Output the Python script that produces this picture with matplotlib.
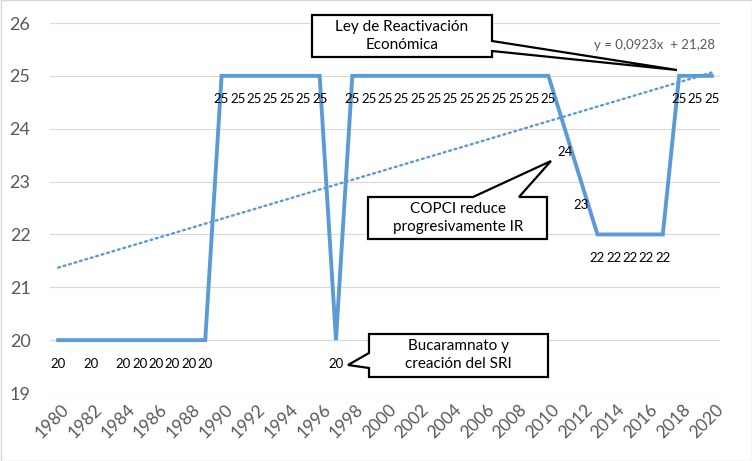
import matplotlib
matplotlib.use("Agg")
import matplotlib.pyplot as plt
import matplotlib.transforms as mtransforms
from matplotlib.patches import Polygon, Rectangle
import numpy as np

plt.rcParams['font.family'] = ['Lato', 'DejaVu Sans']

years = list(range(1980, 2021))
values = [20]*10 + [25]*7 + [20] + [25]*13 + [24, 23] + [22]*5 + [25]*3
hidden_labels = [1981, 1983]
tick_years = list(range(1980, 2021, 2))
yticks = [19, 20, 21, 22, 23, 24, 25, 26]
slope, intercept = 0.0923, 21.28
eq_text = "y = 0,0923x  + 21,28"
callouts = {
    "ley": "Ley de Reactivación\nEconómica",
    "copci": "COPCI reduce\nprogresivamente IR",
    "buca": "Bucaramnato y\ncreación del SRI",
}

W, H = 752, 461
fig = plt.figure(figsize=(W/100, H/100), dpi=100)
ax = fig.add_axes([50/W, 1-393/H, 670/W, 370/H])

line_color = '#5B9BD5'
x = np.arange(len(years))
ax.plot(x, values, color=line_color, lw=2.8, solid_joinstyle='miter', zorder=3)

# linear trendline (Excel index x = 1..n)
xi = np.arange(1, len(years)+1)
ax.plot(x, slope*xi + intercept, color=line_color, lw=1.7, ls=(0, (0.8, 1.6)),
        dash_capstyle='round', zorder=2)

for i, (yr, v) in enumerate(zip(years, values)):
    if yr in hidden_labels:
        continue
    ax.annotate(str(v), (i, v), xytext=(0, -17), textcoords='offset points',
                ha='center', va='center', fontsize=9.5, color='#000000', zorder=4)

ax.set_xlim(-0.5, len(years)-0.5)
ax.set_ylim(19, 26)
ax.set_yticks(yticks)
ax.set_xticks([years.index(t) for t in tick_years])
ax.set_xticklabels([str(t) for t in tick_years], rotation=45, ha='right',
                   rotation_mode='anchor')
ax.tick_params(axis='x', length=0, pad=6, labelsize=12.5, labelcolor='#595959')
ax.tick_params(axis='y', length=0, pad=14, labelsize=13, labelcolor='#595959')
for lab in ax.get_xticklabels():
    lab.set_transform(lab.get_transform() + mtransforms.ScaledTranslation(3/100, 0, fig.dpi_scale_trans))
ax.grid(axis='y', color='#D9D9D9', lw=0.8)
ax.set_axisbelow(True)
for s in ax.spines.values():
    s.set_visible(False)

# pixel (top-left origin) transform
pix = mtransforms.Affine2D().scale(1/W, -1/H).translate(0, 1) + fig.transFigure

def callout(verts, text, center):
    poly = Polygon(verts, closed=True, transform=pix, facecolor='white',
                   edgecolor='black', lw=1.6, zorder=10, clip_on=False,
                   joinstyle='miter')
    fig.add_artist(poly)
    fig.text(center[0]/W, 1-center[1]/H, text, ha='center', va='center',
             fontsize=11, linespacing=1.45, zorder=11, color='#000000')

callout([(312, 15), (492, 15), (492, 41), (677, 70), (492, 51), (492, 57), (312, 57)],
        callouts["ley"], (402, 36))
callout([(368, 197), (473, 197), (551, 161), (519, 197), (547, 197), (547, 239), (368, 239)],
        callouts["copci"], (458, 218))
callout([(369, 334), (548, 334), (548, 377), (369, 377), (369, 368), (348, 365), (369, 353)],
        callouts["buca"], (458, 355))

fig.text(655/W, 1-45/H, eq_text, ha='center', va='center', fontsize=9.5, color='#595959')

fig.add_artist(Rectangle((0.5, 0.5), W-1, H-1, transform=mtransforms.Affine2D().scale(1/W, 1/H) + fig.transFigure,
                         fill=False, edgecolor='#D9D9D9', lw=1, zorder=0))

fig.savefig('out.png', dpi=100)
